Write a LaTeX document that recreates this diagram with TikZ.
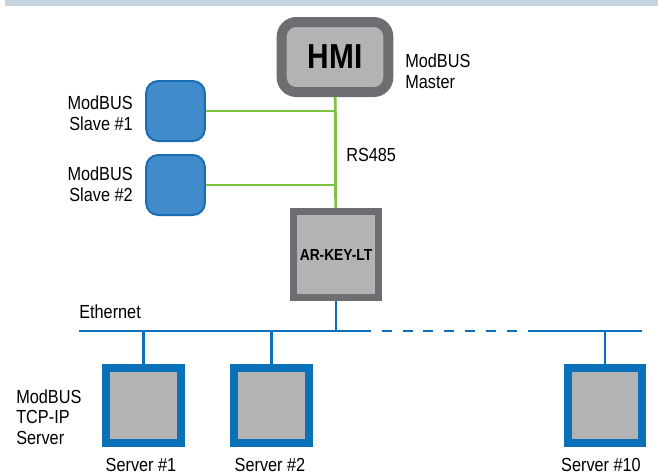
\documentclass[tikz,border=0pt]{standalone}
\usepackage{fontspec}
\setmainfont[FakeStretch=0.86]{Liberation Sans}
\usetikzlibrary{positioning}
\definecolor{bargray}{HTML}{C6D4E0}
\definecolor{darkbox}{HTML}{6D6E71}
\definecolor{lightbox}{HTML}{B1B3B4}
\definecolor{rsgreen}{HTML}{7DC242}
\definecolor{ethblue}{HTML}{0A70B8}
\definecolor{slavefill}{HTML}{428BCA}
\definecolor{slaveline}{HTML}{1A6DB4}
\tikzset{
  lbl/.style={font=\fontsize{14.2}{15.5}\selectfont, align=left, inner sep=0pt},
  hmibox/.style={draw=darkbox, fill=lightbox, line width=7.5pt, rounded corners=11pt,
    minimum width=80pt, minimum height=52.5pt, inner sep=0pt},
  gwbox/.style={draw=darkbox, fill=lightbox, line width=5.3pt,
    minimum width=63.5pt, minimum height=64.5pt, inner sep=0pt},
  slavebox/.style={draw=slaveline, fill=slavefill, line width=1.5pt, rounded corners=9pt,
    minimum width=44pt, minimum height=45pt, inner sep=0pt},
  srvbox/.style={draw=ethblue, fill=lightbox, line width=6pt,
    minimum width=56pt, minimum height=56pt, inner sep=0pt},
  rsline/.style={rsgreen, line width=2.2pt},
  ethline/.style={ethblue, line width=1.7pt}
}
\begin{document}
\begin{tikzpicture}[x=0.75pt,y=-0.75pt]
\useasboundingbox (0,0) rectangle (658,475);
\fill [bargray] (5,0) rectangle (658,6);
% devices
\node [hmibox] (hmi) at (335,57) {\fontsize{26}{26}\selectfont\bfseries HMI};
\node [gwbox] (gw) at (336,254.5) {\fontsize{12}{12}\selectfont\bfseries AR-KEY-LT};
\node [slavebox] (s1) at (175.5,111) {};
\node [slavebox] (s2) at (175.5,185) {};
\node [srvbox] (srv1) at (143.5,405.5) {};
\node [srvbox] (srv2) at (271.5,405.5) {};
\node [srvbox] (srv10) at (605,405.5) {};
% labels
\node [lbl, anchor=west] (master) at (405,71) {ModBUS\\Master};
\node [lbl, align=right, anchor=east] (s1lbl) at (133,113) {ModBUS\\Slave \#1};
\node [lbl, align=right, anchor=east] (s2lbl) at (133,184) {ModBUS\\Slave \#2};
\node [lbl, anchor=west] (rs) at (346,155) {RS485};
\node [lbl, anchor=west] (eth) at (79,312) {Ethernet};
\node [lbl, anchor=west] (tcp) at (16,417) {ModBUS\\TCP-IP\\Server};
\node [lbl] (srv1lbl) at (141,465) {Server \#1};
\node [lbl] (srv2lbl) at (270,465) {Server \#2};
\node [lbl] (srv10lbl) at (601,465) {Server \#10};
% RS485 bus
\draw [rsline] (hmi) -- (gw);
\draw [rsline] (s1) -- (s1 -| hmi);
\draw [rsline] (s2) -- (s2 -| hmi);
% ethernet bus
\coordinate (ethL) at (79,331);
\coordinate (ethA) at (371,331);
\coordinate (ethB) at (381.7,331);
\coordinate (ethC) at (516.7,331);
\coordinate (ethD) at (528,331);
\coordinate (ethR) at (642,331);
\draw [ethline] (ethL) -- (ethA);
\draw [ethline, dash pattern=on 7.5pt off 8.1pt] (ethB) -- (ethC);
\draw [ethline] (ethD) -- (ethR);
\draw [ethline] (gw) -- (gw |- ethL);
\draw [ethline] (srv1) -- (srv1 |- ethL);
\draw [ethline] (srv2) -- (srv2 |- ethL);
\draw [ethline] (srv10) -- (srv10 |- ethL);
\end{tikzpicture}
\end{document}
